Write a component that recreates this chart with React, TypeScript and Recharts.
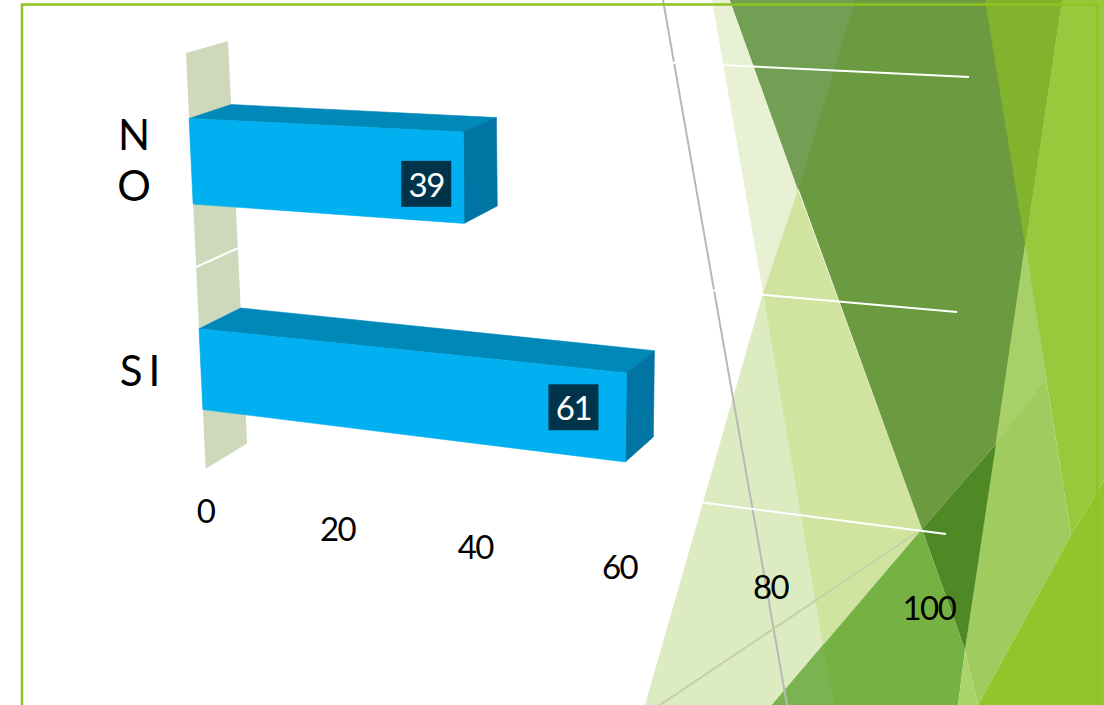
import React from "react"
import { BarChart, Bar, XAxis, YAxis, LabelList } from "recharts"

const categories = ["NO", "SI"]
const values = [39, 61]
const valueTicks = [0, 20, 40, 60, 80, 100]

const chartData = categories.map((name, i) => ({ name, value: values[i] }))

const W = 1104
const H = 705
// plot box once the 1px axis slots are taken out of the chart margins
const margin = { top: 100, right: 200, bottom: 99, left: 199 }
const plotLeft = 200
const plotTop = 100
const plotW = 704
const plotH = 505
const FONT = "Lato, sans-serif"

// flat plot position (0..1 along value, 0..1 down the categories) -> tilted screen position
function project(s: number, t: number) {
    const w = 1 - 0.115 * s + 0.06 * t
    return {
        x: (656 * s + 32 * t + 186) / w,
        y: (16 * s + 25 * s * t + 444 * t + 53) / w,
    }
}

// same point pushed back along the depth of the 3D box
function back(p: { x: number; y: number }) {
    return { x: p.x + (1500 - p.x) * 0.032, y: p.y + (-320 - p.y) * 0.032 }
}

const pts = (list: { x: number; y: number }[]) => list.map((p) => `${p.x},${p.y}`).join(" ")

function Bar3D({ x, y, width, height }: any) {
    const s0 = (x - plotLeft) / plotW
    const s1 = (x + width - plotLeft) / plotW
    const t0 = (y - plotTop) / plotH
    const t1 = (y + height - plotTop) / plotH
    const tl = project(s0, t0)
    const tr = project(s1, t0)
    const br = project(s1, t1)
    const bl = project(s0, t1)
    return (
        <g strokeWidth={0.6} strokeLinejoin="round">
            <polygon points={pts([tl, tr, back(tr), back(tl)])} fill="#0088b9" stroke="#0088b9" />
            <polygon points={pts([tr, br, back(br), back(tr)])} fill="#0075a3" stroke="#0075a3" />
            <polygon points={pts([tl, tr, br, bl])} fill="#00b0f0" stroke="#00b0f0" />
        </g>
    )
}

function ValueTick({ payload }: any) {
    const s = payload.value / 100
    const p = project(s, 1)
    return (
        <text x={p.x + 4 * s} y={p.y + 41 - 3 * s} textAnchor="middle" dominantBaseline="central" fontSize={33} letterSpacing={-1.5} fontFamily={FONT} fill="#000">
            {payload.value}
        </text>
    )
}

function CategoryTick({ y, payload }: any) {
    const p = project(0, (y - plotTop) / plotH)
    const common = { textAnchor: "middle" as const, dominantBaseline: "central" as const, fontSize: 42, fontFamily: FONT, fill: "#000" }
    if (payload.value === "NO") {
        // the long label wraps letter by letter in its narrow slot
        return (
            <g>
                <text x={p.x - 57} y={p.y - 28} {...common}>N</text>
                <text x={p.x - 57} y={p.y + 23} {...common}>O</text>
            </g>
        )
    }
    return (
        <text x={p.x - 58} y={p.y + 1} letterSpacing={6} {...common}>
            {payload.value}
        </text>
    )
}

const labelNudgeX = [-2, 4]
const labelNudgeY = [8, -4]

function ValueLabel({ x, y, width, height, value, index }: any) {
    const s = (x - plotLeft + width * 0.875) / plotW
    const t = (y + height / 2 - plotTop) / plotH
    const p = project(s, t)
    const cx = p.x + labelNudgeX[index]
    const cy = p.y + labelNudgeY[index]
    return (
        <g>
            <rect x={cx - 25} y={cy - 23} width={50} height={46} fill="#00344b" />
            <text x={cx} y={cy} textAnchor="middle" dominantBaseline="central" fontSize={33} letterSpacing={-1.5} fontFamily={FONT} fill="#fff">
                {value}
            </text>
        </g>
    )
}

function Backdrop() {
    const wallFront = [0, 1].map((t) => project(0, t))
    const wall = [wallFront[0], back(wallFront[0]), back(wallFront[1]), wallFront[1]]
    const midA = project(0, 0.5)
    return (
        <svg width={W} height={H} style={{ position: "absolute", left: 0, top: 0 }}>
            <rect width={W} height={H} fill="#fff" />
            <polygon points="712,0 800,0 800,190 763,293" fill="#e9f1d5" />
            <polygon points="763,293 826,650 772,705 645,705" fill="#ddebc0" />
            <polygon points="763,293 798,190 922,529 823,645" fill="#d0e39f" />
            <polygon points="730,0 1062,0 996,444 922,529" fill="#6b9a40" />
            <polygon points="730,0 855,0 798,190" fill="#739f55" />
            <polygon points="985,0 1062,0 1025,245" fill="#83b22c" />
            <polygon points="1062,0 1104,0 1104,480 1071,535 1025,245" fill="#97c93d" />
            <polygon points="1025,245 1071,535 978,705 965,650" fill="#a0cb5f" />
            <polygon points="1025,245 1047,378 996,444" fill="#a7d068" />
            <polygon points="922,529 996,444 965,650" fill="#4f8925" />
            <polygon points="922,529 965,650 958,705 772,705" fill="#75b143" />
            <polygon points="772,705 823,645 835,705" fill="#7ab34f" />
            <polygon points="965,650 978,705 958,705" fill="#abd56a" />
            <polygon points="1071,535 1104,480 1104,705 978,705" fill="#92c42c" />
            <line x1={663} y1={0} x2={787} y2={705} stroke="#b8b8b8" strokeWidth={2} />
            <line x1={660} y1={705} x2={922} y2={529} stroke="#c3d2a6" strokeWidth={2} />
            <polygon points={pts(wall)} fill="#ced8bb" />
            <line x1={midA.x} y1={midA.y} x2={back(midA).x} y2={back(midA).y} stroke="#fff" strokeWidth={2} />
            <line x1={back(wallFront[0]).x} y1={back(wallFront[0]).y} x2={969} y2={77} stroke="#fff" strokeWidth={2} />
            <line x1={back(midA).x} y1={back(midA).y} x2={957} y2={312} stroke="#fff" strokeWidth={2} />
            <line x1={back(wallFront[1]).x} y1={back(wallFront[1]).y} x2={946} y2={534} stroke="#fff" strokeWidth={2} />
            <rect x={22} y={4.5} width={1075} height={H} fill="none" stroke="#8fc31f" strokeWidth={2.5} />
        </svg>
    )
}

export default function App() {
    return (
        <div style={{ position: "absolute", left: 0, top: 0, width: W, height: H, overflow: "hidden" }}>
            <Backdrop />
            <div style={{ position: "absolute", left: 0, top: 0 }}>
                <BarChart width={W} height={H} data={chartData} layout="vertical" margin={margin} barCategoryGap="30%">
                    <XAxis type="number" domain={[0, 100]} ticks={valueTicks} tick={<ValueTick />} axisLine={false} tickLine={false} height={1} />
                    <YAxis type="category" dataKey="name" tick={<CategoryTick />} axisLine={false} tickLine={false} width={1} />
                    <Bar dataKey="value" shape={<Bar3D />} isAnimationActive={false}>
                        <LabelList dataKey="value" content={<ValueLabel />} />
                    </Bar>
                </BarChart>
            </div>
        </div>
    )
}
